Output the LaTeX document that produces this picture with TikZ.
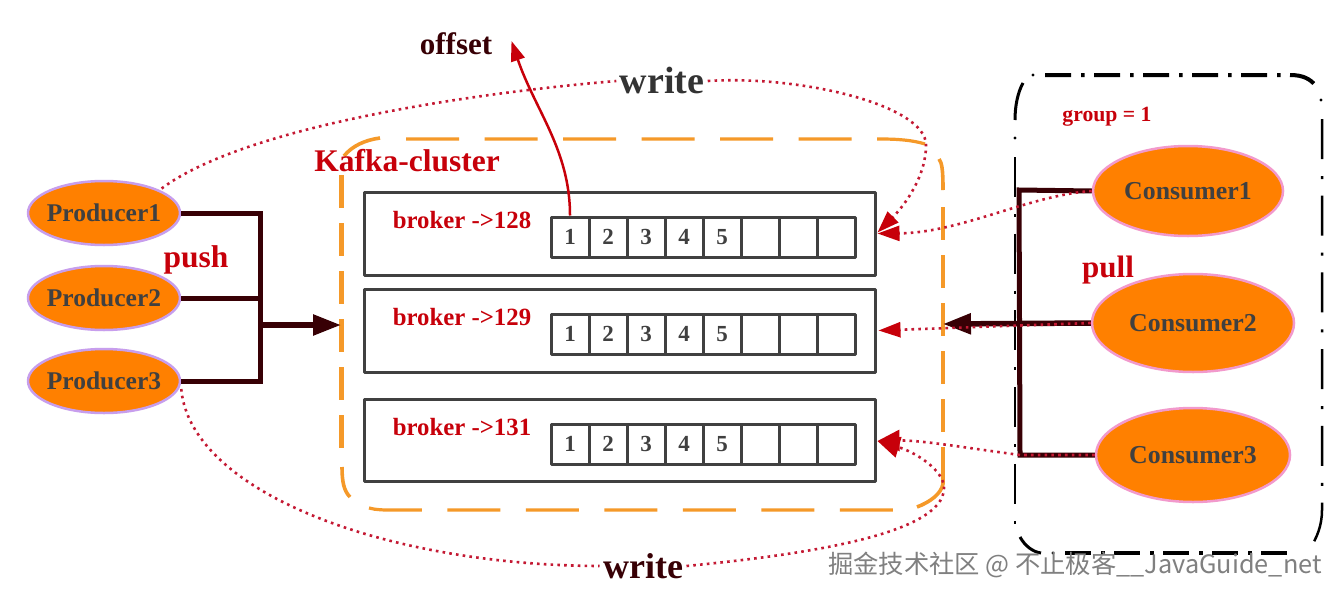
\documentclass[tikz,border=0pt]{standalone}
\usepackage{xcolor}
\usepackage{fontspec}
\usetikzlibrary{calc}
\usetikzlibrary{arrows.meta}
\usetikzlibrary{shapes.geometric}
\setmainfont{Liberation Serif}
\newfontfamily\markfont{Noto Sans CJK SC}
\definecolor{ffoorange}{rgb}{1.,0.5,0.}
\definecolor{clusterorange}{rgb}{0.96,0.6,0.16}
\definecolor{ccred}{rgb}{0.78,0.,0.04}
\definecolor{dotred}{rgb}{0.77,0.1,0.2}
\definecolor{darkred}{rgb}{0.22,0.,0.02}
\definecolor{uuuuuu}{rgb}{0.25,0.25,0.25}
\definecolor{lilac}{rgb}{0.78,0.62,0.93}
\definecolor{pinkline}{rgb}{0.95,0.6,0.8}
\tikzset{
  every node/.style={font=\bfseries},
  producer/.style={ellipse,draw=lilac,line width=2.5pt,fill=ffoorange,inner ysep=0pt,inner xsep=-12pt,text=uuuuuu,font=\fontsize{25.5}{25.5}\selectfont\bfseries,minimum width=152pt,minimum height=64pt},
  consumer/.style={ellipse,draw=pinkline,line width=2.5pt,fill=ffoorange,inner ysep=0pt,inner xsep=-12pt,text=uuuuuu,font=\fontsize{25.8}{25.8}\selectfont\bfseries},
  brokerbox/.style={draw=uuuuuu,line width=3pt,minimum width=511pt,inner sep=0pt},
  cellbox/.style={draw=uuuuuu,line width=3pt,fill=white,minimum width=38pt,minimum height=40pt,inner sep=0pt,font=\fontsize{23}{23}\selectfont\bfseries,text=uuuuuu},
  brokertext/.style={text=ccred,font=\fontsize{24.8}{24.8}\selectfont\bfseries},
  trunkline/.style={draw=darkred,line width=5pt,line join=miter},
  trunkarrow/.style={draw=darkred,line width=5.5pt,-{Triangle[length=28pt,width=20pt]}},
  plaindots/.style={draw=dotred,line width=2.6pt,dash pattern=on 2.6pt off 4.2pt},
  writedots/.style={plaindots,-{Triangle[length=22pt,width=15pt,color=ccred]}},
  orangeh/.style={draw=clusterorange,line width=3.2pt,dash pattern=on 53pt off 25.5pt},
  orangev/.style={draw=clusterorange,line width=4.4pt,dash pattern=on 33pt off 15pt},
  orangearc/.style={draw=clusterorange,line width=3.6pt},
  grouph/.style={draw=black,line width=4pt,dash pattern=on 26pt off 10pt on 3.5pt off 9.5pt},
  groupv/.style={draw=black,line width=2.5pt,dash pattern=on 40pt off 17pt on 3pt off 16.7pt},
  grouparc/.style={draw=black,line width=3pt}
}
\begin{document}
\begin{tikzpicture}[line cap=butt,line join=round,x=1pt,y=-1pt]
\useasboundingbox (0,0) rectangle (1340,597);
\fill[white] (0,0) rectangle (1340,597);
\draw [orangeh] (406,139) -- (880,139) .. controls (897,139) and (912,140) .. (925,144);
\draw [orangev] (341.5,175) -- (341.5,450);
\draw [orangearc] (342,467) .. controls (342,482) and (344,491) .. (350,497);
\draw [orangearc] (344,156) .. controls (352,146) and (365,140) .. (380,138);
\draw [orangeh] (369,508) .. controls (376,510) and (384,510) .. (392,510) -- (900,510);
\draw [orangev] (943,207) -- (943,449);
\draw [orangearc] (939,159) .. controls (942,163) and (943,170) .. (943,190);
\draw [orangearc] (943,449) -- (943,484) .. controls (941,494) and (930,502) .. (917,507);
\draw [grouph] (1045,75) -- (1290,75) .. controls (1303,75) and (1310,79) .. (1315,85);
\draw [grouph] (1065,553) -- (1288,553);
\draw [groupv] (1015,157) -- (1015,525);
\draw [groupv] (1322,119) -- (1322,510) .. controls (1322,525) and (1317,538) .. (1310,548);
\draw [grouparc] (1023,83) .. controls (1018,92) and (1015,105) .. (1015,120);
\draw [grouparc] (1020,537) .. controls (1025,546) and (1033,552) .. (1041,553);
\fill (1033,75) circle (1.7pt) (1015,138) circle (1.7pt) (1321,100) circle (1.7pt) (1053,553) circle (1.7pt);
\node[brokerbox,minimum height=83pt] (broker128) at (619.5,233.5) {};
\node[brokerbox,minimum height=83pt] (broker129) at (619.5,330.5) {};
\node[brokerbox,minimum height=82pt] (broker131) at (619.5,440) {};
\node[brokertext] (label128) at (462,220) {broker ->128};
\node[brokertext] (label129) at (462,317) {broker ->129};
\node[brokertext] (label131) at (462,427) {broker ->131};
\foreach \b/\y in {128/237,129/334,131/444}{
  \foreach \i in {1,...,5}
    \node[cellbox] (cell\b-\i) at ({532+38*\i},\y) {\i};
  \foreach \i in {6,...,8}
    \node[cellbox] (cell\b-\i) at ({532+38*\i},\y) {};
}
\node[producer] (producer1) at (104,213) {Producer1};
\node[producer] (producer2) at (104,298) {Producer2};
\node[producer] (producer3) at (104,381) {Producer3};
\node[consumer,minimum width=190pt,minimum height=90pt] (consumer1) at (1188,191) {Consumer1};
\node[consumer,minimum width=202pt,minimum height=98pt] (consumer2) at (1193,323) {Consumer2};
\node[consumer,minimum width=194pt,minimum height=94pt] (consumer3) at (1193,455) {Consumer3};
\coordinate (pushtop) at (260,213);
\coordinate (pushmid) at (260,298);
\coordinate (pushbot) at (260,381);
\coordinate (pushfork) at (260,325);
\coordinate (pushend) at (341,325);
\coordinate (pulltop) at (1019,190);
\coordinate (pullbot) at (1020,455);
\coordinate (pullend) at (943,324);
\coordinate (offsettip) at (511.5,41);
\draw [trunkline] (producer1.east) -- (pushtop) -- (pushbot) -- (producer3.east);
\draw [trunkline] (producer2.east) -- (pushmid);
\draw [trunkarrow] (pushfork) -- (pushend);
\draw [trunkline] (consumer1.west) -- (pulltop) -- (pullbot) -- (consumer3.west);
\draw [trunkarrow] (consumer2.west) -- (pullend);
\node[text=darkred,font=\fontsize{31}{31}\selectfont\bfseries] (offsettext) at (456,44) {offset};
\node[text=black!80,font=\fontsize{38}{38}\selectfont\bfseries] (writetop) at (662,81) {write};
\node[text=darkred,font=\fontsize{36}{36}\selectfont\bfseries] (writebot) at (643,566) {write};
\node[text=ccred,font=\fontsize{31.5}{31.5}\selectfont\bfseries] (clustertext) at (407,161) {Kafka-cluster};
\node[text=ccred,font=\fontsize{31.5}{31.5}\selectfont\bfseries] (pushtext) at (196,260) {push};
\node[text=ccred,font=\fontsize{31}{31}\selectfont\bfseries] (pulltext) at (1108,270) {pull};
\node[text=ccred,font=\fontsize{21.7}{21.7}\selectfont\bfseries] (grouptext) at (1107,117) {group = 1};
\draw [ccred,line width=2.5pt,-{Triangle[length=20pt,width=14pt]}] (cell128-1.north) .. controls (570,150) and (535,110) .. (offsettip);
\draw [plaindots] (producer1.north east) ++(3,-1) .. controls (240,130) and (450,95) .. (writetop.west);
\draw [writedots] (writetop.east) .. controls (800,75) and (926,105) .. (926,145) .. controls (926,180) and (900,210) .. ($(broker128.east)+(1,-1)$);
\draw [writedots] (consumer1.west) .. controls (1030,195) and (960,233) .. ($(broker128.east)+(1,0)$);
\draw [writedots] (consumer2.west) -- ($(broker129.east)+(2,0)$);
\draw [writedots,-{Triangle[length=22pt,width=21pt,color=ccred]}] (consumer3.west) -- (pullbot) .. controls (960,447) and (920,440) .. ($(broker131.east)+(1,1)$);
\draw [plaindots] (producer3.east) ++(0,8) .. controls (190,490) and (380,565) .. (writebot.west);
\draw [writedots,-{Triangle[length=22pt,width=21pt,color=ccred]}] (writebot.east) .. controls (800,555) and (944,535) .. (944,488) .. controls (944,470) and (915,452) .. ($(broker131.east)+(1,1)$);
\node[text=black!50,font=\markfont\fontsize{25.3}{25.3}\selectfont\mdseries,inner sep=0pt] (watermark) at (1075,565) {掘金技术社区 @ 不止极客\_\_JavaGuide\_net};
\end{tikzpicture}
\end{document}
